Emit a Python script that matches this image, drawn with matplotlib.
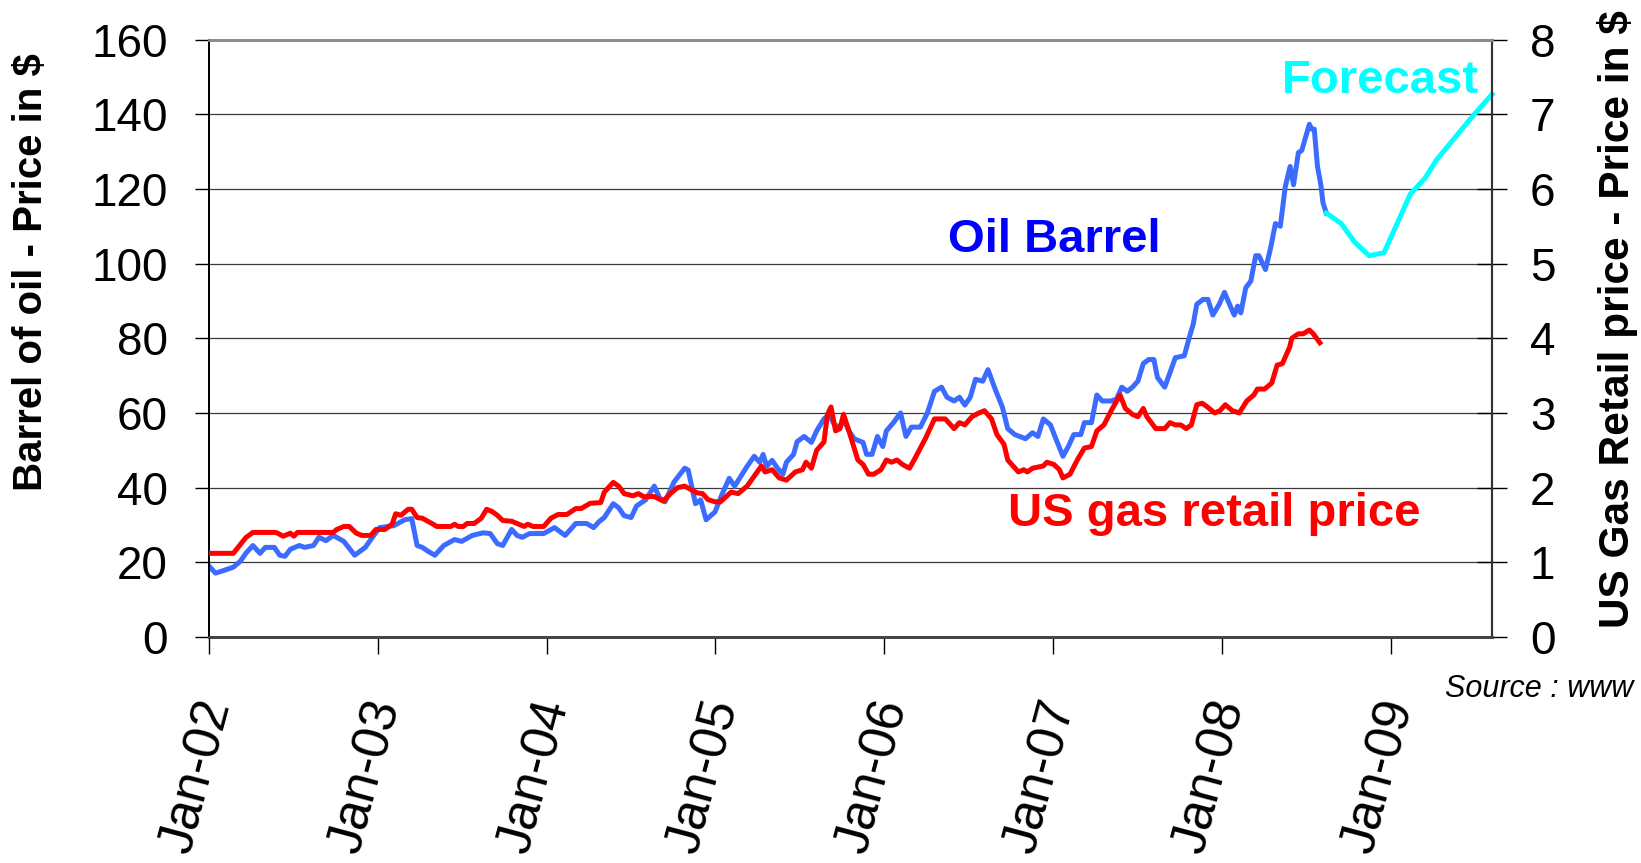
import matplotlib
matplotlib.use("Agg")
import matplotlib.pyplot as plt
import matplotlib.transforms as mtransforms

plt.rcParams['font.family'] = ['Liberation Sans', 'DejaVu Sans']

# oil barrel price ($) (x in decimal years)
oil_years = [
    2002.006, 2002.038, 2002.080, 2002.144, 2002.186, 2002.218, 2002.260, 2002.302,
    2002.334, 2002.387, 2002.419, 2002.450, 2002.482, 2002.535, 2002.567, 2002.619,
    2002.651, 2002.693, 2002.736, 2002.799, 2002.863, 2002.926, 2002.968, 2003.011,
    2003.095, 2003.159, 2003.201, 2003.233, 2003.264, 2003.296, 2003.338, 2003.391,
    2003.455, 2003.497, 2003.560, 2003.624, 2003.666, 2003.708, 2003.740, 2003.793,
    2003.825, 2003.856, 2003.899, 2003.983, 2004.047, 2004.110, 2004.173, 2004.237,
    2004.279, 2004.311, 2004.342, 2004.395, 2004.427, 2004.459, 2004.501, 2004.533,
    2004.586, 2004.638, 2004.670, 2004.702, 2004.755, 2004.818, 2004.839, 2004.882,
    2004.913, 2004.945, 2004.998, 2005.040, 2005.082, 2005.114, 2005.188, 2005.230,
    2005.262, 2005.283, 2005.304, 2005.336, 2005.368, 2005.400, 2005.421, 2005.463,
    2005.484, 2005.526, 2005.569, 2005.600, 2005.643, 2005.674, 2005.706, 2005.738,
    2005.759, 2005.791, 2005.822, 2005.875, 2005.896, 2005.928, 2005.960, 2005.992,
    2006.013, 2006.055, 2006.097, 2006.129, 2006.161, 2006.214, 2006.256, 2006.298,
    2006.340, 2006.372, 2006.414, 2006.446, 2006.478, 2006.510, 2006.541, 2006.584,
    2006.615, 2006.658, 2006.700, 2006.732, 2006.774, 2006.837, 2006.879, 2006.911,
    2006.943, 2006.985, 2007.017, 2007.059, 2007.091, 2007.123, 2007.165, 2007.186,
    2007.228, 2007.260, 2007.292, 2007.345, 2007.376, 2007.408, 2007.440, 2007.471,
    2007.503, 2007.535, 2007.567, 2007.598, 2007.619, 2007.662, 2007.725, 2007.778,
    2007.810, 2007.831, 2007.852, 2007.889, 2007.918, 2007.947, 2007.986, 2008.016,
    2008.045, 2008.074, 2008.094, 2008.113, 2008.142, 2008.172, 2008.201, 2008.220,
    2008.259, 2008.288, 2008.318, 2008.347, 2008.376, 2008.405, 2008.425, 2008.454,
    2008.474, 2008.493, 2008.519, 2008.532, 2008.548, 2008.567, 2008.587, 2008.600,
    2008.620,
]
oil_prices = [
    18.7, 17.1, 17.7, 18.7, 20.3, 22.4, 24.5, 22.4,
    24.0, 24.0, 21.9, 21.6, 23.5, 24.5, 24.0, 24.5,
    26.7, 25.8, 27.2, 25.6, 21.9, 24.0, 26.7, 29.3,
    29.8, 31.4, 31.7, 24.5, 24.0, 23.0, 21.9, 24.5,
    26.1, 25.6, 27.2, 27.9, 27.7, 25.0, 24.5, 28.8,
    27.2, 26.7, 27.7, 27.7, 29.3, 27.2, 30.4, 30.4,
    29.3, 30.9, 32.0, 35.7, 34.6, 32.5, 32.0, 35.1,
    36.7, 40.4, 37.2, 36.2, 41.5, 45.2, 44.7, 35.7,
    36.7, 31.4, 33.5, 38.3, 42.5, 40.4, 45.7, 48.4,
    46.8, 48.9, 45.7, 47.3, 45.2, 43.6, 46.8, 48.9,
    52.3, 53.7, 52.1, 55.2, 58.4, 59.5, 56.8, 56.2,
    58.4, 55.2, 53.1, 52.1, 48.9, 48.9, 53.7, 51.0,
    55.2, 57.4, 60.0, 53.7, 56.2, 56.2, 60.0, 65.8,
    66.9, 64.2, 63.2, 64.2, 62.1, 64.2, 69.0, 68.5,
    71.6, 66.3, 61.6, 55.8, 54.2, 53.1, 54.7, 53.7,
    58.4, 56.8, 53.1, 48.4, 51.0, 54.2, 54.2, 57.4,
    57.4, 64.8, 63.2, 63.2, 63.7, 66.9, 65.8, 66.9,
    68.5, 73.2, 74.3, 74.3, 69.5, 66.9, 74.8, 75.3,
    80.6, 83.8, 89.1, 90.4, 90.4, 86.2, 89.2, 92.3,
    89.2, 86.2, 88.6, 86.8, 93.5, 95.3, 102.1, 102.1,
    98.4, 103.9, 110.7, 110.0, 120.5, 126.0, 121.1, 129.7,
    130.3, 133.3, 137.3, 136.0, 136.0, 126.0, 121.1, 116.2,
    113.5,
]

# oil forecast ($)
forecast_years = [2008.620, 2008.708, 2008.786, 2008.873, 2008.961, 2009.039,
                  2009.117, 2009.205, 2009.273, 2009.370, 2009.487, 2009.601]
forecast_prices = [113.5, 110.7, 105.8, 102.1, 102.9, 110.7,
                   118.6, 122.9, 127.8, 133.1, 139.5, 145.3]

# US gas retail price ($ per gallon)
gas_years = [
    2002.006, 2002.144, 2002.218, 2002.260, 2002.397, 2002.440, 2002.482, 2002.503,
    2002.524, 2002.736, 2002.757, 2002.799, 2002.831, 2002.873, 2002.905, 2002.958,
    2002.989, 2003.042, 2003.085, 2003.106, 2003.137, 2003.180, 2003.201, 2003.233,
    2003.264, 2003.328, 2003.349, 2003.433, 2003.455, 2003.476, 2003.507, 2003.529,
    2003.571, 2003.613, 2003.645, 2003.677, 2003.708, 2003.740, 2003.793, 2003.835,
    2003.867, 2003.888, 2003.920, 2003.983, 2004.025, 2004.068, 2004.120, 2004.173,
    2004.205, 2004.258, 2004.321, 2004.342, 2004.395, 2004.427, 2004.459, 2004.512,
    2004.543, 2004.575, 2004.638, 2004.691, 2004.734, 2004.776, 2004.818, 2004.850,
    2004.892, 2004.924, 2004.956, 2004.998, 2005.030, 2005.093, 2005.135, 2005.188,
    2005.273, 2005.294, 2005.336, 2005.378, 2005.421, 2005.474, 2005.516, 2005.537,
    2005.569, 2005.600, 2005.643, 2005.664, 2005.685, 2005.712, 2005.738, 2005.759,
    2005.791, 2005.844, 2005.875, 2005.907, 2005.939, 2005.981, 2006.013, 2006.044,
    2006.076, 2006.108, 2006.150, 2006.182, 2006.245, 2006.298, 2006.362, 2006.414,
    2006.446, 2006.478, 2006.520, 2006.562, 2006.594, 2006.636, 2006.668, 2006.710,
    2006.732, 2006.795, 2006.827, 2006.848, 2006.879, 2006.943, 2006.964, 2007.006,
    2007.038, 2007.059, 2007.101, 2007.144, 2007.186, 2007.228, 2007.260, 2007.302,
    2007.345, 2007.397, 2007.429, 2007.471, 2007.503, 2007.535, 2007.556, 2007.609,
    2007.662, 2007.693, 2007.725, 2007.757, 2007.789, 2007.820, 2007.852, 2007.884,
    2007.915, 2007.958, 2007.989, 2008.021, 2008.063, 2008.104, 2008.148, 2008.190,
    2008.211, 2008.254, 2008.296, 2008.328, 2008.359, 2008.402, 2008.415, 2008.454,
    2008.483, 2008.519, 2008.542, 2008.581,
]
gas_prices = [
    1.12, 1.12, 1.33, 1.40, 1.40, 1.35, 1.39, 1.35,
    1.40, 1.40, 1.44, 1.48, 1.48, 1.39, 1.36, 1.36,
    1.44, 1.44, 1.51, 1.65, 1.63, 1.71, 1.71, 1.60,
    1.59, 1.51, 1.48, 1.48, 1.51, 1.48, 1.48, 1.52,
    1.52, 1.59, 1.71, 1.68, 1.63, 1.56, 1.55, 1.51,
    1.48, 1.51, 1.48, 1.48, 1.59, 1.64, 1.64, 1.72,
    1.72, 1.79, 1.80, 1.94, 2.07, 2.02, 1.92, 1.89,
    1.92, 1.88, 1.88, 1.82, 1.92, 2.00, 2.02, 1.98,
    1.93, 1.92, 1.84, 1.81, 1.81, 1.94, 1.92, 2.02,
    2.29, 2.21, 2.24, 2.13, 2.10, 2.21, 2.24, 2.34,
    2.26, 2.50, 2.61, 2.98, 3.08, 2.76, 2.79, 2.98,
    2.76, 2.37, 2.31, 2.18, 2.18, 2.24, 2.37, 2.34,
    2.37, 2.31, 2.26, 2.39, 2.66, 2.92, 2.92, 2.79,
    2.87, 2.84, 2.95, 3.00, 3.03, 2.92, 2.71, 2.58,
    2.37, 2.21, 2.24, 2.21, 2.26, 2.29, 2.34, 2.31,
    2.24, 2.13, 2.18, 2.37, 2.53, 2.55, 2.76, 2.84,
    3.03, 3.24, 3.06, 2.98, 2.95, 3.06, 2.95, 2.79,
    2.79, 2.87, 2.84, 2.84, 2.79, 2.84, 3.11, 3.13,
    3.08, 3.00, 3.03, 3.11, 3.03, 3.00, 3.16, 3.24,
    3.32, 3.32, 3.40, 3.64, 3.66, 3.88, 4.00, 4.06,
    4.06, 4.11, 4.06, 3.94,
]

year_ticks = [2002, 2003, 2004, 2005, 2006, 2007, 2008, 2009]
year_labels = ['Jan-02', 'Jan-03', 'Jan-04', 'Jan-05', 'Jan-06', 'Jan-07', 'Jan-08', 'Jan-09']
oil_ticks = [0, 20, 40, 60, 80, 100, 120, 140, 160]
gas_ticks = [0, 1, 2, 3, 4, 5, 6, 7, 8]

W, H = 1641, 863
fig = plt.figure(figsize=(W / 100, H / 100), dpi=100)
ax = fig.add_axes([209 / W, 1 - 637 / H, (1492 - 209) / W, (637 - 39.5) / H])
ax2 = ax.twinx()

ax.plot(oil_years, oil_prices, color='#3b6cff', lw=3.6, solid_joinstyle='round', zorder=3)
ax.plot(forecast_years, forecast_prices, color='#00ffff', lw=3.6, zorder=3, clip_on=False)
ax2.plot(gas_years, gas_prices, color='#ff0000', lw=3.6, solid_joinstyle='round', zorder=3)

ax.set_xlim(2002.0, 2009.601)
ax.set_ylim(0, 160)
ax2.set_ylim(0, 8)

ax.set_yticks(oil_ticks)
ax2.set_yticks(gas_ticks)
ax.set_xticks(year_ticks)
ax.set_xticklabels(year_labels)

for v in oil_ticks[1:-1]:
    ax.axhline(v, color='#3a3a3a', lw=0.9, zorder=1)

ax.tick_params(axis='y', direction='out', length=10, width=1, pad=19.5,
               labelsize=33, colors='black')
ax2.tick_params(axis='y', direction='inout', length=21.6, width=1, pad=16.5,
                labelsize=33, colors='black')
ax.tick_params(axis='x', direction='out', length=12, width=1, pad=34,
               labelsize=37, colors='black')

shift = mtransforms.ScaledTranslation(8.7 / 100, 0, fig.dpi_scale_trans)
for lab in ax.get_xticklabels():
    lab.set_rotation(75)
    lab.set_rotation_mode('anchor')
    lab.set_ha('right')
    lab.set_va('center')
    lab.set_transform(lab.get_transform() + shift)

for a in (ax, ax2):
    a.spines['top'].set_color('#8c8c8c')
    a.spines['top'].set_linewidth(2)
    a.spines['left'].set_color('black')
    a.spines['left'].set_linewidth(1.3)
    a.spines['right'].set_color('#333333')
    a.spines['right'].set_linewidth(1.5)
    a.spines['bottom'].set_color('#444444')
    a.spines['bottom'].set_linewidth(2)

# series labels
ax.text(2007.006, 103, 'Oil Barrel', color='#0000ff', fontsize=34,
        fontweight='bold', ha='center', va='baseline')
ax.text(2007.954, 29.7, 'US gas retail price', color='#ff0000', fontsize=34,
        fontweight='bold', ha='center', va='baseline')
ax.text(2008.943, 145.6, 'Forecast', color='#00ffff', fontsize=34,
        fontweight='bold', ha='center', va='baseline')

fig.text(31 / W, 1 - 272 / H, 'Barrel of oil - Price in $', rotation=90,
         fontsize=29, fontweight='bold', ha='center', va='center')
fig.text(1617 / W, 1 - 628 / H, 'US Gas Retail price - Price in $', rotation=90,
         fontsize=30.5, fontweight='bold', ha='center', va='bottom')
fig.text(1445 / W, 1 - 697 / H, 'Source : www', fontsize=22, style='italic',
         ha='left', va='baseline')

fig.savefig('out.png', dpi=100)
